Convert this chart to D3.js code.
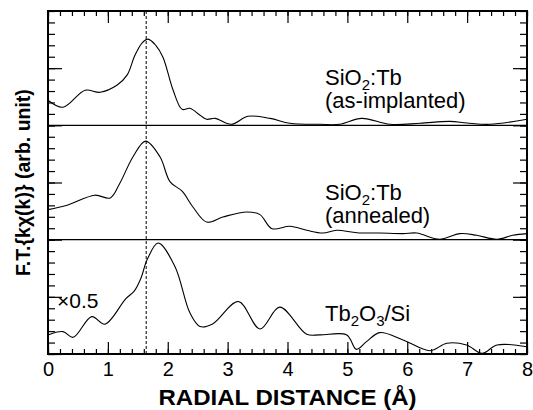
<!DOCTYPE html>
<html>
<head>
<meta charset="utf-8">
<script src="https://cdn.jsdelivr.net/npm/d3@7"></script>
<style>
  body { margin: 0; background: #fff; }
  svg { font-family: 'Liberation Sans', Arial, sans-serif; }
  .axis path.domain { display: none; }
  .axis line { stroke: #000; stroke-width: 1.2; }
  .axis text { font-size: 20px; fill: #000; }
</style>
</head>
<body>
<script>
// radial distance (Å) and F.T. magnitude in panel tick units (0-10)
const asImplantedR = [0, 0.25, 0.62, 0.87, 1.15, 1.32, 1.45, 1.57, 1.67, 1.8, 1.92, 2.09, 2.24, 2.37, 2.54, 2.65, 2.79, 3.06, 3.34, 3.71, 4.04, 4.54, 4.87, 5.24, 5.71, 6.21, 6.71, 7.0, 7.38, 8.0]
const asImplantedFT = [2.19, 1.58, 3.07, 2.89, 3.5, 4.39, 6.1, 7.2, 7.54, 7.0, 5.96, 3.07, 1.4, 1.49, 0.88, 0.53, 0.61, 0.09, 0.79, 0.61, 0.18, 0.09, 0.09, 0.61, 0.09, 0.18, 0.35, 0.2, 0.09, 0.53]

const annealedR = [0, 0.32, 0.78, 1.04, 1.2, 1.42, 1.63, 1.87, 2.04, 2.24, 2.42, 2.65, 2.92, 3.32, 3.54, 3.74, 4.04, 4.32, 4.59, 4.82, 5.16, 5.54, 5.93, 6.16, 6.54, 6.88, 7.16, 7.5, 7.76, 8.0]
const annealedFT = [2.63, 3.01, 3.89, 3.65, 4.94, 7.25, 8.62, 7.25, 5.05, 4.24, 2.86, 1.54, 1.98, 2.42, 2.19, 0.96, 1.17, 0.82, 0.58, 0.82, 0.61, 0.58, 0.53, 0.58, 0.03, 0.53, 0.38, 0.03, 0.38, 0.53]

const tb2o3R = [0, 0.25, 0.42, 0.73, 0.95, 1.3, 1.44, 1.55, 1.66, 1.84, 2.12, 2.37, 2.54, 2.75, 3.18, 3.54, 3.87, 4.32, 4.54, 4.99, 5.15, 5.32, 5.54, 5.93, 6.38, 6.66, 6.99, 7.25, 7.5, 8.0]
const tb2o3FT = [1.67, 1.96, 1.46, 3.27, 2.61, 4.85, 5.5, 6.6, 8.3, 9.71, 7.66, 3.6, 2.4, 2.63, 4.59, 2.19, 4.1, 1.73, 1.67, 1.67, 0.41, 1.08, 1.87, 1.23, 0.29, 0.94, 0.79, 0.06, 0.79, 0.64]

const xTicks = [0, 1, 2, 3, 4, 5, 6, 7, 8]
const dashedR = 1.64

const panels = [
  { r: asImplantedR, ft: asImplantedFT, label: ['SiO', '2', ':Tb'], label2: '(as-implanted)' },
  { r: annealedR, ft: annealedFT, label: ['SiO', '2', ':Tb'], label2: '(annealed)' },
  { r: tb2o3R, ft: tb2o3FT, label: null, label2: null }
]

const outerWidth = 533
const outerHeight = 410
const margin = { left: 48, top: 11, right: 6, bottom: 56 }
const innerWidth = outerWidth - margin.left - margin.right
const innerHeight = outerHeight - margin.top - margin.bottom
const panelHeight = innerHeight / panels.length

const svg = d3.select('body').append('svg')
  .attr('width', outerWidth)
  .attr('height', outerHeight)

const g = svg.append('g')
  .attr('transform', 'translate(' + margin.left + ',' + margin.top + ')')

const xScale = d3.scaleLinear().domain([0, 8]).range([0, innerWidth])

const minorX = d3.range(0, 8.001, 0.2).map(v => +v.toFixed(1))
const minorY = d3.range(0, 11)

// bottom axis
g.append('g')
  .attr('class', 'axis')
  .attr('transform', 'translate(0,' + innerHeight + ')')
  .call(d3.axisBottom(xScale).tickValues(minorX).tickSize(-5).tickFormat(''))
g.append('g')
  .attr('class', 'axis')
  .attr('transform', 'translate(0,' + innerHeight + ')')
  .call(d3.axisBottom(xScale).tickValues(xTicks).tickSize(-12).tickPadding(8).tickFormat(d3.format('d')))

// top axis
g.append('g')
  .attr('class', 'axis')
  .call(d3.axisTop(xScale).tickValues(minorX).tickSize(-5).tickFormat(''))
g.append('g')
  .attr('class', 'axis')
  .call(d3.axisTop(xScale).tickValues(xTicks).tickSize(-12).tickFormat(''))

panels.forEach((p, i) => {
  const y0 = panelHeight * (i + 1)
  const yScale = d3.scaleLinear().domain([0, 10]).range([y0, y0 - panelHeight])

  const left = g.append('g').attr('class', 'axis')
  left.call(d3.axisLeft(yScale).tickValues(minorY).tickSize(-7).tickFormat(''))
  left.append('g').call(d3.axisLeft(yScale).tickValues([0, 5]).tickSize(-14).tickFormat(''))

  const right = g.append('g').attr('class', 'axis').attr('transform', 'translate(' + innerWidth + ',0)')
  right.call(d3.axisRight(yScale).tickValues(minorY).tickSize(-7).tickFormat(''))
  right.append('g').call(d3.axisRight(yScale).tickValues([0, 5]).tickSize(-14).tickFormat(''))

  if (i < panels.length - 1) {
    g.append('line')
      .attr('x1', 0).attr('x2', innerWidth)
      .attr('y1', y0).attr('y2', y0)
      .attr('stroke', '#000').attr('stroke-width', 1.2)
  }

  const line = d3.line()
    .x(d => xScale(d[0]))
    .y(d => yScale(d[1]))
    .curve(d3.curveCatmullRom.alpha(0.5))

  g.append('path')
    .datum(p.r.map((r, k) => [r, p.ft[k]]))
    .attr('fill', 'none')
    .attr('stroke', '#000')
    .attr('stroke-width', 1.1)
    .attr('d', line)

  if (p.label) {
    const t = g.append('text')
      .attr('x', 277).attr('y', y0 - 40)
      .attr('font-size', 22)
    t.append('tspan').text(p.label[0])
    t.append('tspan').attr('font-size', 15).attr('dy', 5).text(p.label[1])
    t.append('tspan').attr('dy', -5).text(p.label[2])
    g.append('text')
      .attr('x', 277).attr('y', y0 - 17)
      .attr('font-size', 22)
      .text(p.label2)
  }
})

// Tb2O3/Si label and scale factor
const tb = g.append('text')
  .attr('x', 277).attr('y', innerHeight - 33)
  .attr('font-size', 22)
tb.append('tspan').text('Tb')
tb.append('tspan').attr('font-size', 15).attr('dy', 5).text('2')
tb.append('tspan').attr('dy', -5).text('O')
tb.append('tspan').attr('font-size', 15).attr('dy', 5).text('3')
tb.append('tspan').attr('dy', -5).text('/Si')

g.append('text')
  .attr('x', 9).attr('y', innerHeight - 46)
  .attr('font-size', 21)
  .text('\u00d70.5')

// dashed marker
g.append('line')
  .attr('x1', xScale(dashedR)).attr('x2', xScale(dashedR))
  .attr('y1', 0).attr('y2', innerHeight)
  .attr('stroke', '#000')
  .attr('stroke-width', 1)
  .attr('stroke-dasharray', '3,2')

// frame
g.append('rect')
  .attr('width', innerWidth)
  .attr('height', innerHeight)
  .attr('fill', 'none')
  .attr('stroke', '#000')
  .attr('stroke-width', 2)

// axis titles
svg.append('text')
  .attr('x', margin.left + innerWidth / 2)
  .attr('y', 405)
  .attr('text-anchor', 'middle')
  .attr('font-size', 22)
  .attr('font-weight', 'bold')
  .attr('textLength', 258)
  .attr('lengthAdjust', 'spacingAndGlyphs')
  .text('RADIAL DISTANCE (\u00c5)')

svg.append('text')
  .attr('transform', 'translate(30,' + (margin.top + innerHeight / 2) + ') rotate(-90)')
  .attr('text-anchor', 'middle')
  .attr('font-size', 19.5)
  .attr('font-weight', 'bold')
  .text('F.T.{k\u03c7(k)} (arb. unit)')
</script>
</body>
</html>
